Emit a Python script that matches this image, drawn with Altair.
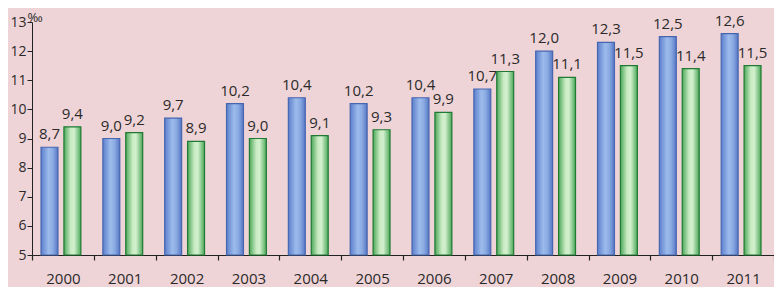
import altair as alt
import pandas as pd

years = ["2000", "2001", "2002", "2003", "2004", "2005", "2006", "2007", "2008", "2009", "2010", "2011"]
series_a = [8.7, 9.0, 9.7, 10.2, 10.4, 10.2, 10.4, 10.7, 12.0, 12.3, 12.5, 12.6]
series_b = [9.4, 9.2, 8.9, 9.0, 9.1, 9.3, 9.9, 11.3, 11.1, 11.5, 11.4, 11.5]
series_names = ["A", "B"]

rows = []
for y, a, b in zip(years, series_a, series_b):
    rows.append({"year": y, "series": "A", "value": a, "label": f"{a:.1f}".replace(".", ",")})
    rows.append({"year": y, "series": "B", "value": b, "label": f"{b:.1f}".replace(".", ",")})
df = pd.DataFrame(rows)

FONT = "Open Sans"
BG = "#EFD4D7"
TXT = "#2a2a2a"

x_enc = alt.X("year:N", sort=years, title=None,
              scale=alt.Scale(paddingInner=0, paddingOuter=0),
              axis=alt.Axis(labelAngle=0, tickBand="extent", tickSize=5, tickColor="#222",
                            domainColor="#222", labelFontSize=15, labelColor=TXT,
                            labelFont=FONT, labelPadding=11, tickWidth=1.2))
xo_enc = alt.XOffset("series:N", sort=series_names,
                     scale=alt.Scale(domain=series_names, paddingInner=0.26, paddingOuter=0.48, align=0.41))
y_enc = alt.Y("value:Q", title="‰",
              scale=alt.Scale(domain=[5, 13], nice=False, zero=False),
              axis=alt.Axis(values=list(range(5, 14)), tickSize=5, tickColor="#222", domainColor="#222",
                            labelFontSize=14, labelColor=TXT, labelFont=FONT, labelPadding=1,
                            grid=False, titleAngle=0, titleFontSize=13, titleFont=FONT,
                            titleFontWeight="normal", titleColor=TXT,
                            titleX=-5, titleY=-11, titleAlign="left", titleBaseline="top"))

blue_grad = alt.Gradient(gradient="linear", x1=0, x2=1, y1=0, y2=0,
                         stops=[alt.GradientStop(color="#5C7FCC", offset=0),
                                alt.GradientStop(color="#9DBBEB", offset=0.45),
                                alt.GradientStop(color="#8AAAE2", offset=0.7),
                                alt.GradientStop(color="#5677C4", offset=1)])
green_grad = alt.Gradient(gradient="linear", x1=0, x2=1, y1=0, y2=0,
                          stops=[alt.GradientStop(color="#4DA85A", offset=0),
                                 alt.GradientStop(color="#C9EBC3", offset=0.4),
                                 alt.GradientStop(color="#D3F0CE", offset=0.6),
                                 alt.GradientStop(color="#4DA85A", offset=1)])

base = alt.Chart(df)

bars_a = base.transform_filter(alt.datum.series == "A").mark_bar(
    fill=blue_grad, stroke="#4766B0", strokeWidth=1.2).encode(
    x=x_enc, xOffset=xo_enc, y=y_enc, y2=alt.datum(5))
bars_b = base.transform_filter(alt.datum.series == "B").mark_bar(
    fill=green_grad, stroke="#1F7A32", strokeWidth=1.2).encode(
    x=x_enc, xOffset=xo_enc, y=y_enc, y2=alt.datum(5))
labels = base.mark_text(dy=-13, fontSize=15, font=FONT, color=TXT).encode(
    x=x_enc, xOffset=xo_enc, y=y_enc, text="label:N")

chart = alt.layer(bars_a, bars_b, labels).properties(
    width=742, height=233, background=BG,
    autosize=alt.AutoSizeParams(type="none"),
    padding={"left": 24, "top": 14, "right": 0, "bottom": 32},
).configure_view(stroke=None)

chart.save("out.html", embed_options={"renderer": "svg", "actions": False})
